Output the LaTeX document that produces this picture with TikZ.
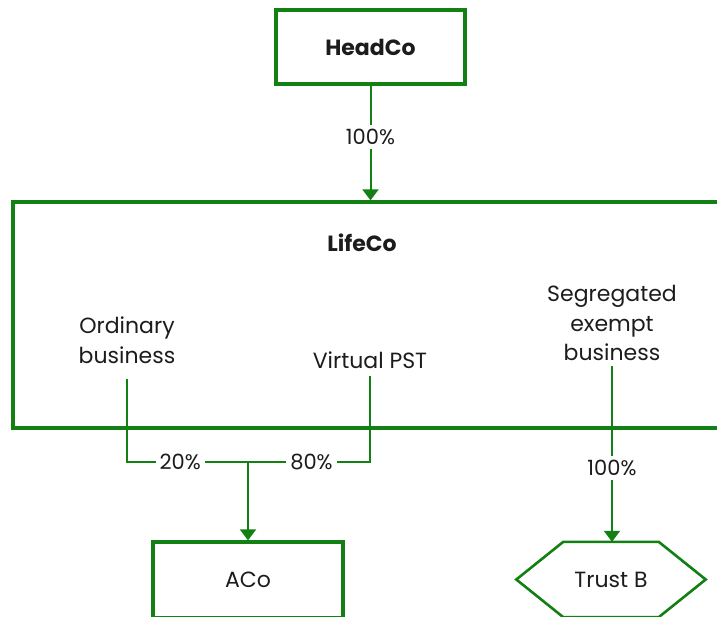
\documentclass[tikz,border=0pt]{standalone}
\usepackage{fontspec}
\setmainfont{Poppins}
\usetikzlibrary{arrows.meta,positioning}
\definecolor{grn}{RGB}{18,128,18}
\definecolor{ink}{RGB}{28,28,28}
\tikzset{
  every picture/.style={x=1pt, y=-1pt, line join=miter,
    >={Triangle[length=11pt,width=16pt]}},
  every node/.style={text=ink, font=\fontsize{22}{29.5}\selectfont, align=center},
  % Kästen
  box/.style={draw=grn, line width=3.2pt, inner sep=0pt},
  hexline/.style={draw=grn, line width=2.6pt},
  title/.style={font=\fontsize{22}{28}\selectfont\bfseries},
  % Verbindungen
  link/.style={grn, line width=2pt},
  pct/.style={fill=white, inner sep=4pt, font=\fontsize{21}{22}\selectfont},
}

\begin{document}
\begin{tikzpicture}
  \useasboundingbox (0,0) rectangle (717,617);
  \clip (0,0) rectangle (717,617);
  % Gesellschaften
  \node[box, title, minimum width=189pt, minimum height=74pt] (headco) at (370.5,47) {HeadCo};
  \node[box, minimum width=720pt, minimum height=226pt] (lifeco) at (373,315) {};
  \node[title] (lifename) at (362,243) {LifeCo};
  \node (ordinary) at (127,340) {Ordinary\\business};
  \node (vpst) at (370,360) {Virtual PST};
  \node (segregated) at (612,323) {Segregated\\exempt\\business};
  \node[box, minimum width=190pt, minimum height=76pt] (aco) at (248,580) {ACo};
  \node[minimum width=189pt, minimum height=75pt, inner sep=0pt] (trustb) at (611,579.5) {Trust B};
  \draw[hexline] (trustb.west) -- ([xshift=47pt]trustb.north west) -- ([xshift=-47pt]trustb.north east)
    -- (trustb.east) -- ([xshift=-47pt]trustb.south east) -- ([xshift=47pt]trustb.south west) -- cycle;
  % Beteiligungen
  \coordinate (join) at (248,462);
  \draw[link, ->] (headco) -- (headco |- lifeco.north) node[pct, pos=0.45] {100\%};
  \draw[link] ([yshift=-12pt]ordinary.south) |- (join) node[pct, pos=0.72] {20\%};
  \draw[link] ([yshift=-4pt]vpst.south) |- (join) node[pct, pos=0.74] {80\%};
  \draw[link, ->] (join) -- (aco);
  \draw[link, ->] ([yshift=-2pt]segregated.south) -- (segregated |- trustb.north) node[pct, pos=0.58] {100\%};
\end{tikzpicture}
\end{document}
